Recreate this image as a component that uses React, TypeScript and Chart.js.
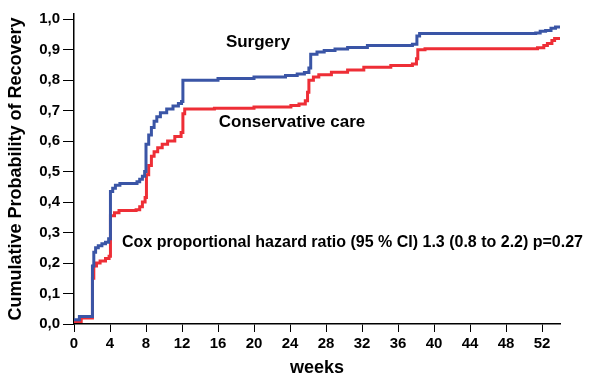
import { useEffect, useRef } from 'react';
import { Chart, registerables } from 'chart.js';

Chart.register(...registerables);

const weekTicks = [0, 4, 8, 12, 16, 20, 24, 28, 32, 36, 40, 44, 48, 52];
const probTicks = [0, 0.1, 0.2, 0.3, 0.4, 0.5, 0.6, 0.7, 0.8, 0.9, 1.0];

const surgeryWeeks = [0, 0.6, 2.05, 2.2, 2.4, 2.7, 3.1, 3.5, 3.85, 4.05, 4.3, 4.6, 5.1, 7.0, 7.3, 7.6, 7.85, 8.0, 8.3, 8.6, 8.9, 9.2, 9.6, 10.3, 11.0, 11.6, 11.95, 12.1, 16, 20, 23.5, 24.8, 25.6, 26.1, 26.3, 27, 27.8, 29, 30.4, 32.6, 37.6, 38.1, 38.4, 51.3, 51.8, 52.4, 53.0, 53.5, 54];
const surgeryProb = [0.014, 0.025, 0.19, 0.235, 0.25, 0.257, 0.263, 0.268, 0.28, 0.435, 0.445, 0.455, 0.461, 0.467, 0.475, 0.485, 0.5, 0.59, 0.62, 0.645, 0.665, 0.68, 0.693, 0.705, 0.715, 0.723, 0.73, 0.8, 0.805, 0.81, 0.815, 0.82, 0.825, 0.84, 0.885, 0.892, 0.897, 0.902, 0.907, 0.914, 0.918, 0.945, 0.953, 0.955, 0.96, 0.963, 0.97, 0.974, 0.974];

const conservativeWeeks = [0, 0.8, 2.05, 2.2, 2.5, 2.9, 3.5, 3.9, 4.05, 4.5, 5.0, 6.9, 7.3, 7.6, 7.9, 8.05, 8.3, 8.6, 8.9, 9.3, 9.8, 10.4, 11.2, 11.9, 12.1, 12.3, 15.6, 20, 24.1, 25.0, 25.7, 25.95, 26.1, 26.6, 27.2, 28.6, 30.4, 32.2, 35.2, 37.6, 38.05, 38.2, 39, 51.5, 52.2, 52.6, 53.1, 53.4, 54];
const conservativeProb = [0.008, 0.02, 0.15, 0.19, 0.2, 0.207, 0.215, 0.222, 0.355, 0.365, 0.372, 0.375, 0.385, 0.4, 0.415, 0.49, 0.52, 0.55, 0.565, 0.578, 0.59, 0.6, 0.615, 0.628, 0.69, 0.705, 0.708, 0.712, 0.717, 0.722, 0.732, 0.76, 0.8, 0.81, 0.818, 0.826, 0.833, 0.842, 0.848, 0.853, 0.87, 0.9, 0.903, 0.906, 0.914, 0.92, 0.93, 0.937, 0.937];

const seriesNames = ['Surgery', 'Conservative care'];
const hazardText = 'Cox proportional hazard ratio (95 % CI) 1.3 (0.8 to 2.2) p=0.27';

const BLUE = '#3a55a6';
const RED = '#ee2e36';
const FONT = '"Liberation Sans", Arial, Helvetica, sans-serif';

const toPoints = (xs: number[], ys: number[]) => xs.map((x, i) => ({ x, y: ys[i] }));

const labelsPlugin = {
  id: 'curveLabels',
  afterDraw(chart: any) {
    const ctx = chart.ctx as CanvasRenderingContext2D;
    ctx.save();
    ctx.fillStyle = '#000';
    ctx.textBaseline = 'middle';
    ctx.font = `bold 17px ${FONT}`;
    ctx.textAlign = 'center';
    ctx.fillText(seriesNames[0], 258, 42);
    ctx.fillText(seriesNames[1], 292, 122);
    ctx.font = `bold 16px ${FONT}`;
    ctx.textAlign = 'left';
    ctx.fillText(hazardText, 122, 243);
    ctx.restore();
  },
};

export default function App() {
  const ref = useRef<HTMLCanvasElement>(null);
  useEffect(() => {
    const chart = new Chart(ref.current!, {
      type: 'line',
      data: {
        datasets: [
          {
            label: seriesNames[0],
            data: toPoints(surgeryWeeks, surgeryProb),
            borderColor: BLUE,
            borderWidth: 3,
            pointRadius: 0,
            stepped: 'before',
            fill: false,
            clip: false as any,
          },
          {
            label: seriesNames[1],
            data: toPoints(conservativeWeeks, conservativeProb),
            borderColor: RED,
            borderWidth: 3,
            pointRadius: 0,
            stepped: 'before',
            fill: false,
            clip: false as any,
          },
        ],
      },
      options: {
        responsive: false,
        animation: false,
        layout: { padding: { left: 0, right: 51, top: 14, bottom: 0 } },
        plugins: { legend: { display: false }, tooltip: { enabled: false } },
        scales: {
          x: {
            type: 'linear',
            min: 0,
            max: 54,
            afterBuildTicks: (s: any) => {
              s.ticks = weekTicks.map((v) => ({ value: v }));
            },
            afterFit: (s: any) => {
              s.height = 55;
            },
            grid: { display: true, drawOnChartArea: false, tickLength: 8, color: '#000', lineWidth: 1 },
            border: { display: true, color: '#000', width: 1.5 },
            ticks: {
              color: '#000',
              padding: 3,
              maxRotation: 0,
              autoSkip: false,
              font: { family: FONT, size: 15, weight: 'bold' },
              callback: (v: any) => String(v),
            },
            title: {
              display: true,
              text: 'weeks',
              color: '#000',
              padding: { top: 0, bottom: 0 },
              font: { family: FONT, size: 18, weight: 'bold' },
            },
          },
          y: {
            type: 'linear',
            min: 0,
            max: 1.017,
            afterBuildTicks: (s: any) => {
              s.ticks = probTicks.map((v) => ({ value: v }));
            },
            afterFit: (s: any) => {
              s.width = 74;
            },
            grid: { display: true, drawOnChartArea: false, tickLength: 11, color: '#000', lineWidth: 1 },
            border: { display: true, color: '#000', width: 1.5 },
            ticks: {
              color: '#000',
              padding: 3,
              autoSkip: false,
              font: { family: FONT, size: 15, weight: 'bold' },
              callback: (v: any) => Number(v).toFixed(1).replace('.', ','),
            },
            title: {
              display: true,
              text: 'Cumulative Probability of Recovery',
              color: '#000',
              padding: { top: 5, bottom: 0 },
              font: { family: FONT, size: 18, weight: 'bold' },
            },
          },
        },
      },
      plugins: [labelsPlugin],
    } as any);
    return () => chart.destroy();
  }, []);
  return (
    <div style={{ position: 'fixed', left: 0, top: 0, width: 611, height: 379, background: '#fff' }}>
      <canvas ref={ref} width={611} height={379} style={{ display: 'block', width: 611, height: 379 }} />
    </div>
  );
}
